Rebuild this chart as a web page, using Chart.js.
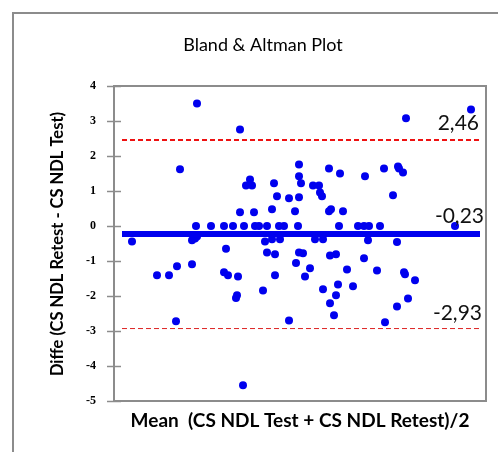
<!DOCTYPE html>
<html>
<head>
<meta charset="utf-8">
<script src="https://cdn.jsdelivr.net/npm/chart.js@4"></script>
<style>
  html, body { margin: 0; padding: 0; background: #fff; }
  #wrap { width: 498px; height: 452px; position: relative; }
</style>
</head>
<body>
<div id="wrap"><canvas id="baChart" width="498" height="452"></canvas></div>
<script>
'use strict';

// ---------------- data ----------------
const meanValues = [
  1.7, 4.2, 5.4, 6.1, 6.2, 6.5, 7.7, 8.0, 8.2, 7.7,
  8.1, 8.2, 9.6, 10.9, 11.1, 10.9, 11.3, 11.8, 12.3, 12.2,
  12.1, 12.5, 12.5, 12.9, 12.8, 13.1, 13.5, 13.7, 13.9, 14.0,
  14.4, 14.8, 15.0, 15.2, 15.2, 15.7, 15.7, 15.9, 16.0, 16.0,
  16.2, 16.4, 16.5, 16.9, 17.4, 17.4, 18.0, 18.1, 18.3, 18.4,
  18.4, 18.6, 18.4, 18.4, 18.8, 19.0, 19.5, 19.8, 20.4, 20.5,
  20.7, 20.0, 20.8, 20.8, 21.4, 21.4, 21.6, 21.5, 22.1, 21.5,
  21.9, 22.1, 22.3, 22.4, 22.5, 22.8, 23.2, 23.8, 24.3, 24.9,
  25.0, 24.9, 25.3, 25.4, 26.2, 26.5, 26.9, 27.0, 27.8, 28.2,
  28.2, 28.3, 28.4, 28.8, 28.9, 29.0, 29.1, 29.3, 30.0, 34.0,
  35.6
];
const diffValues = [
  -0.44, -1.41, -1.41, -2.72, -1.15, 1.62, -0.41, -0.36, -0.30, -1.09,
  0, 3.50, 0, 0, -0.65, -1.32, -1.41, 0, -1.44, -1.98,
  -2.06, 2.76, 0.39, 0, -4.55, 1.16, 1.33, 1.16, 0.39, 0,
  0, -1.84, -0.44, 0, -0.76, 0.48, -0.38, 1.22, -0.81, -1.41,
  0.85, 0, -0.38, 0, 0.79, -2.70, 0.42, -1.06, 0, 1.76,
  1.42, 1.22, 0.82, -0.76, -0.78, -1.44, -1.21, 1.16, 1.16, 0.96,
  0.85, -0.38, -0.38, -1.81, 1.64, 0.42, 0.48, -0.84, -0.81, -2.21,
  -2.55, -1.98, -1.67, 0, 1.50, 0.42, -1.24, -1.72, 0, 0,
  1.42, -0.92, -0.41, 0, -1.27, 0, 1.64, -2.75, 0.88, -0.46,
  -2.30, 1.70, 1.64, 1.53, -1.32, -1.38, 3.08, -2.07, -1.55, 0,
  3.33
];
const meanDiff = -0.23;
const upperLimit = 2.46;
const lowerLimit = -2.93;
const lineStartX = 0.7;
const lineEndX = 36.5;
const yTicks = [4, 3, 2, 1, 0, -1, -2, -3, -4, -5];

const chartTitle = 'Bland & Altman Plot';
const xTitle = 'Mean  (CS NDL Test + CS NDL Retest)/2';
const yTitle = 'Diffe (CS NDL Retest - CS NDL Test)';
const upperLabel = '2,46';
const meanLabel = '-0,23';
const lowerLabel = '-2,93';

// ---------------- datasets ----------------
const points = meanValues.map((m, i) => ({ x: m, y: diffValues[i] }));

function hLine(yVal) {
  return [{ x: lineStartX, y: yVal }, { x: lineEndX, y: yVal }];
}

// frame, titles, inner ticks, line labels
const decorPlugin = {
  id: 'decor',
  beforeDraw(chart) {
    const ctx = chart.ctx;
    ctx.save();
    ctx.strokeStyle = '#8c8c8c';
    ctx.lineWidth = 2;
    ctx.beginPath();
    ctx.moveTo(13, 460);
    ctx.lineTo(13, 13);
    ctx.lineTo(500, 13);
    ctx.stroke();
    ctx.restore();
  },
  afterDraw(chart) {
    const ctx = chart.ctx;
    const area = chart.chartArea;
    const yScale = chart.scales.y;
    ctx.save();

    // plot border
    ctx.strokeStyle = '#8c8c8c';
    ctx.lineWidth = 2;
    ctx.strokeRect(area.left, area.top, area.right - area.left, area.bottom - area.top);

    // tick marks crossing into the plot
    ctx.lineWidth = 1.5;
    for (let t of yTicks) {
      const py = Math.round(yScale.getPixelForValue(t)) + 0.5;
      ctx.beginPath();
      ctx.moveTo(area.left - 7, py);
      ctx.lineTo(area.left + 7, py);
      ctx.stroke();
    }

    // titles
    ctx.fillStyle = '#000';
    ctx.textAlign = 'center';
    ctx.textBaseline = 'middle';
    ctx.font = '18px Lato, "Open Sans", sans-serif';
    ctx.fillText(chartTitle, 263, 45);

    ctx.font = 'bold 19px Lato, "Open Sans", sans-serif';
    ctx.fillText(xTitle, 300, 421);

    ctx.save();
    ctx.translate(58, 244);
    ctx.rotate(-Math.PI / 2);
    ctx.font = 'bold 16.5px Lato, "Open Sans", sans-serif';
    ctx.fillText(yTitle, 0, 0);
    ctx.restore();

    // value labels on the lines
    ctx.textAlign = 'right';
    ctx.textBaseline = 'alphabetic';
    ctx.font = '21px Lato, "Open Sans", sans-serif';
    ctx.fillStyle = '#111';
    ctx.fillText(upperLabel, 479, yScale.getPixelForValue(upperLimit) - 10);
    ctx.fillText(meanLabel, 484, yScale.getPixelForValue(meanDiff) - 11);
    ctx.fillText(lowerLabel, 482, yScale.getPixelForValue(lowerLimit) - 9);
    ctx.restore();
  }
};

const ctx = document.getElementById('baChart').getContext('2d');
const baChart = new Chart(ctx, {
  type: 'scatter',
  data: {
    datasets: [{
      label: 'Mean',
      type: 'line',
      data: hLine(meanDiff),
      borderColor: '#0000ee',
      borderWidth: 6,
      pointRadius: 0,
      order: 1
    }, {
      label: 'Upper',
      type: 'line',
      data: hLine(upperLimit),
      borderColor: '#ee1111',
      borderWidth: 2,
      borderDash: [5, 3],
      pointRadius: 0,
      order: 2
    }, {
      label: 'Lower',
      type: 'line',
      data: hLine(lowerLimit),
      borderColor: '#dd2222',
      borderWidth: 1,
      borderDash: [5, 3],
      pointRadius: 0,
      order: 2
    }, {
      label: 'Difference',
      data: points,
      backgroundColor: '#0000ee',
      borderColor: '#0000ee',
      borderWidth: 0,
      pointRadius: 4,
      order: 0
    }]
  },
  options: {
    responsive: false,
    animation: false,
    layout: {
      padding: { left: 0, top: 86, right: 12, bottom: 51 }
    },
    plugins: {
      legend: { display: false },
      tooltip: { enabled: false }
    },
    scales: {
      x: {
        type: 'linear',
        display: false,
        min: -0.1,
        max: 37.1
      },
      y: {
        min: -5,
        max: 4,
        afterFit(scale) {
          scale.width = 114;
        },
        ticks: {
          stepSize: 1,
          color: '#000',
          padding: 18,
          font: { family: '"Liberation Serif", serif', weight: 'bold', size: 12 }
        },
        grid: {
          drawOnChartArea: false,
          drawTicks: false
        },
        border: { display: false }
      }
    }
  },
  plugins: [decorPlugin]
});
</script>
</body>
</html>
